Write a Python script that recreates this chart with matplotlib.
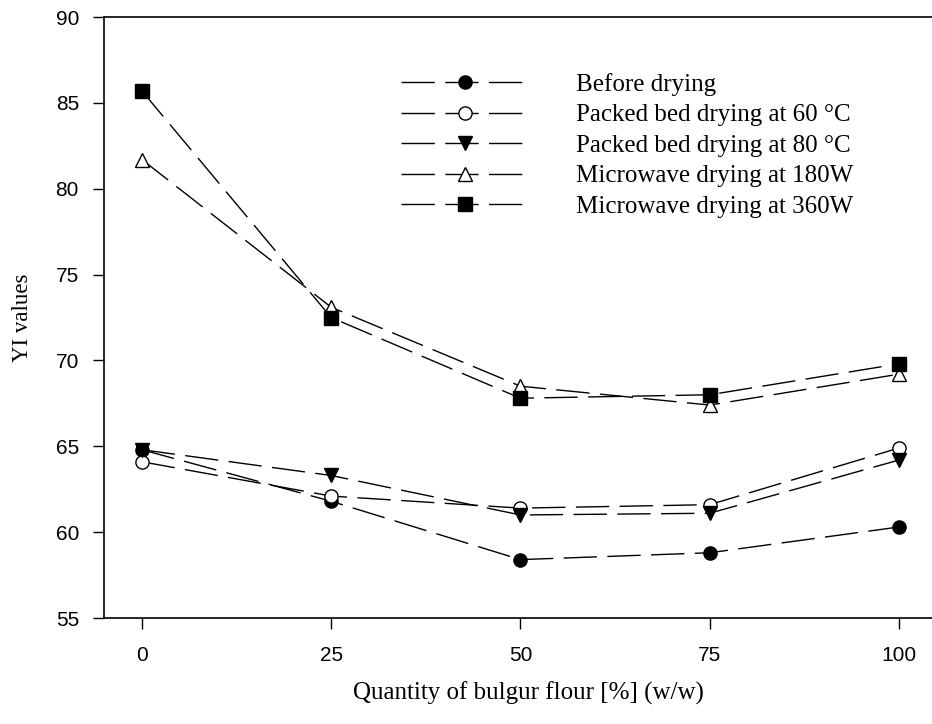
import numpy as np
import matplotlib
matplotlib.use("Agg")
import matplotlib.pyplot as plt

# bulgur flour share in the blend, % (w/w)
bulgur = [0, 25, 50, 75, 100]

# yellowness index for each drying treatment
before_drying = [64.8, 61.8, 58.4, 58.8, 60.3]
packed_60 = [64.1, 62.1, 61.4, 61.6, 64.9]
packed_80 = [64.8, 63.3, 61.0, 61.1, 64.2]
microwave_180 = [81.7, 73.1, 68.5, 67.4, 69.2]
microwave_360 = [85.7, 72.5, 67.8, 68.0, 69.8]

labels = ["Before drying",
          "Packed bed drying at 60 \u00b0C",
          "Packed bed drying at 80 \u00b0C",
          "Microwave drying at 180W",
          "Microwave drying at 360W"]

serif = "Liberation Serif"
sans = "Liberation Sans"

fig = plt.figure(figsize=(9.32, 7.24), dpi=100)
# axes run past the right edge of the canvas
ax = fig.add_axes([104/932, 1 - 618/724, 848/932, 601/724])

series = [
    (before_drying, "o", "black"),
    (packed_60, "o", "white"),
    (packed_80, "v", "black"),
    (microwave_180, "^", "white"),
    (microwave_360, "s", "black"),
]
for (vals, mk, fc), lab in zip(series, labels):
    ms = 9.5 if mk in ("o", "s") else 10.5
    ax.plot(bulgur, vals, color="black", lw=1.0, dashes=(24, 7.5),
            marker=mk, ms=ms, mfc=fc, mec="black", mew=1.0, label=lab)

ax.set_xlim(-5, 107)
ax.set_ylim(55, 90)
ax.set_xticks(bulgur)
ax.set_yticks(np.arange(55, 91, 5))
ax.tick_params(direction="out", length=8, width=1.0, labelsize=15, pad=10)
ax.tick_params(axis="x", pad=12)
for t in ax.get_xticklabels() + ax.get_yticklabels():
    t.set_fontfamily(sans)
for s in ax.spines.values():
    s.set_linewidth(1.2)
ax.spines["right"].set_visible(False)

ax.set_xlabel("Quantity of bulgur flour [%] (w/w)", fontfamily=serif,
              fontsize=18, labelpad=12)
ax.set_ylabel("YI values", fontfamily=serif, fontsize=16.5, labelpad=16)

leg = ax.legend(loc="upper left", bbox_to_anchor=(401/932, 1 - 73/724),
                bbox_transform=fig.transFigure, frameon=False,
                prop={"family": serif, "size": 18}, handlelength=5.1,
                handletextpad=1.9, labelspacing=0.32, borderpad=0,
                borderaxespad=0)

fig.savefig("out.png", dpi=100)
